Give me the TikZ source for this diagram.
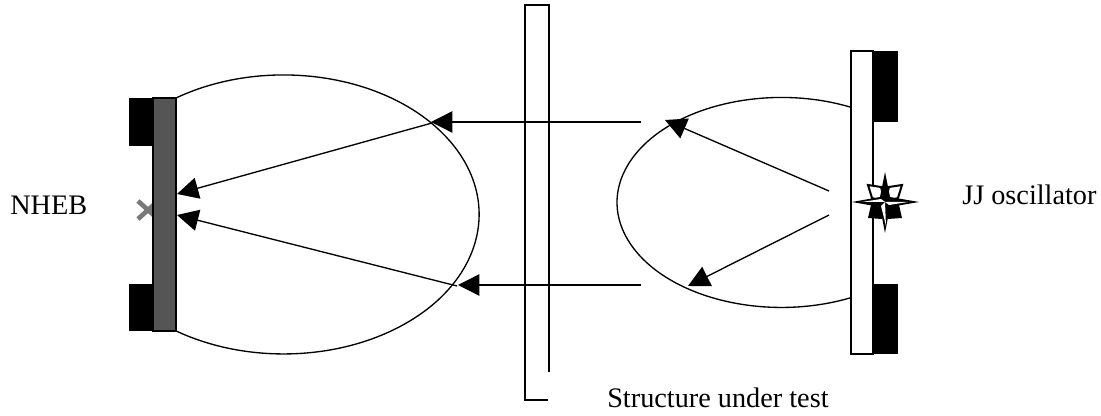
\documentclass[tikz,border=0pt]{standalone}
\usepackage{fontspec}
\setmainfont{Liberation Serif}
\usetikzlibrary{arrows.meta}
\definecolor{plategrey}{RGB}{85,85,85}
\definecolor{crossgrey}{RGB}{120,120,120}
\tikzset{
  wire/.style={draw=black,line width=1pt},
  ray/.style={wire,-{Triangle[length=16pt,width=16pt]}},
  lbl/.style={font=\fontsize{21.2pt}{24pt}\selectfont,inner sep=0pt,anchor=base west},
}
\begin{document}
\begin{tikzpicture}[x=0.75pt,y=-0.75pt]
\useasboundingbox (0,0) rectangle (1101,416);
% detector
\fill[black] (129,98) rectangle (153,146);
\fill[black] (129,284) rectangle (153,331);
\draw[crossgrey,line width=3.5pt] (138,201) -- (158,219) (138,219) -- (158,201);
\path[fill=plategrey,draw=black,line width=.9pt] (153,98) rectangle (176,331);
% lobes
\draw[wire] (176,98) arc[start angle=123.4,end angle=-123.4,x radius=195.5,y radius=-139.5];
\draw[wire] (850,107) arc[start angle=65.4,end angle=294.6,x radius=164.5,y radius=-105];
% structure
\draw[wire] (549,372) -- (549,5) -- (525,5) -- (525,400) -- (548,400);
% source plate
\fill[black] (873,51) rectangle (898,122);
\fill[black] (873,284) rectangle (898,354);
\draw[wire] (851,51) rectangle (873,354);
% rays
\coordinate (h1s) at (641,122); \coordinate (h1e) at (431,122);
\coordinate (h2s) at (641,285); \coordinate (h2e) at (458,285);
\coordinate (l1s) at (432,123); \coordinate (l1e) at (177,194);
\coordinate (l2s) at (457,286); \coordinate (l2e) at (177,215);
\coordinate (r1s) at (829,191); \coordinate (r1e) at (665,120);
\coordinate (r2s) at (829,215); \coordinate (r2e) at (688,286);
\foreach \a/\b in {h1s/h1e,h2s/h2e,l1s/l1e,l2s/l2e,r1s/r1e,r2s/r2e}
  \draw[ray] (\a) -- (\b);
% star
\draw[black,line width=1.5pt,fill=white] (868,185) -- (881,187) -- (885,202) -- (872,198) -- cycle;
\draw[black,line width=1.5pt,fill=white] (902,185) -- (889,187) -- (885,202) -- (898,198) -- cycle;
\fill[black] (868,218) -- (871,205) -- (885,202) -- (882,219) -- cycle;
\fill[black] (902,218) -- (899,205) -- (885,202) -- (888,219) -- cycle;
\fill[black] (885,172) -- (890,197) -- (919,202) -- (890,207) -- (885,233) -- (880,207) -- (852,202) -- (880,197) -- cycle;
\fill[white] (885,202) -- (908,202) -- (889,205) -- cycle;
\fill[white] (885,202) -- (886,226) -- (881,206) -- cycle;
\fill[white] (885,202) -- (862,202) -- (881,199) -- cycle;
% labels
\node[lbl] (nheb) at (10,215) {NHEB};
\node[lbl] (jj) at (962,205) {JJ oscillator};
\node[lbl] (sut) at (607,408) {Structure under test};
\end{tikzpicture}
\end{document}
